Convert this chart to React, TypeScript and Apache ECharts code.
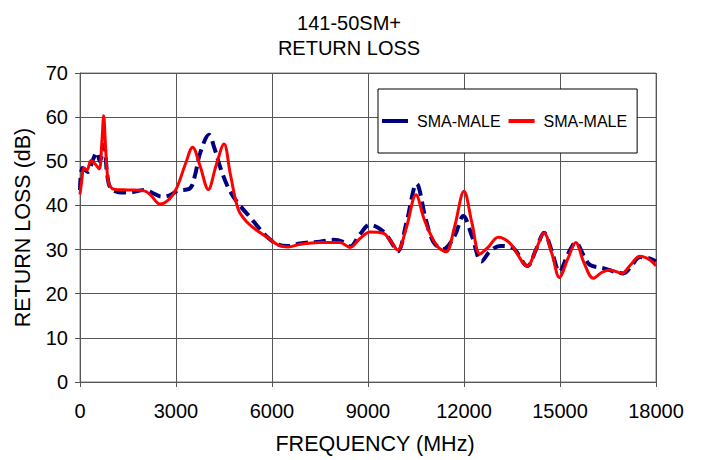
import React, { useEffect, useRef } from "react";
import * as echarts from "echarts";

const titleLines = ["141-50SM+", "RETURN LOSS"];
const xAxisName = "FREQUENCY (MHz)";
const yAxisName = "RETURN LOSS (dB)";
const seriesNames = ["SMA-MALE", "SMA-MALE"];

// Blue dashed curve: [frequency MHz, return loss dB]
const blueFreq = [
  0, 80, 250, 400, 530, 620, 750, 850, 950, 1200, 1500, 2020, 2300, 2540, 2800, 3040,
  3440, 3600, 3750, 4030, 4200, 4375, 4600, 4790, 5050, 5310, 5600, 5885, 6200, 6500,
  6875, 7500, 7920, 8200, 8440, 8750, 9060, 9480, 9700, 9930, 10200, 10520, 10800,
  11040, 11350, 11700, 11980, 12250, 12550, 12800, 13125, 13500, 13980, 14250, 14500,
  14750, 14980, 15250, 15490, 15750, 15940, 16350, 16980, 17250, 17500, 17800, 18000,
];
const blueLoss = [
  43.5, 48.5, 47.6, 50.3, 52, 50, 53.7, 47, 44, 43, 42.9, 43.5, 42.7, 42, 42.3, 43.3,
  43.9, 47, 51.8, 56, 53, 48.8, 44.5, 42, 39.5, 37.4, 34.8, 32.6, 31.1, 30.8,
  31.4, 31.8, 32.2, 31.8, 30.7, 33.5, 35.6, 34.1, 32, 29.6, 36, 44.9, 37,
  31.8, 30.1, 33, 37.6, 33, 27.3, 29.5, 30.8, 30.5, 26.3, 30, 33.8,
  29.5, 25, 29, 31.6, 28.5, 26.5, 25.8, 24.6, 26.5, 28.3, 28, 27.3,
];

// Red solid curve: [frequency MHz, return loss dB]
const redFreq = [
  0, 60, 120, 220, 340, 460, 600, 680, 740, 800, 870, 950, 1100, 1500, 2000, 2200,
  2500, 2800, 3020, 3300, 3520, 3750, 4010, 4250, 4500, 4700, 4950, 5210, 5500, 5885,
  6200, 6500, 6875, 7500, 8125, 8440, 8750, 9060, 9480, 9700, 9930, 10200, 10500,
  10750, 10990, 11200, 11440, 11700, 12000, 12250, 12500, 12750, 13070, 13440, 13980,
  14250, 14500, 14750, 14980, 15250, 15490, 15750, 16040, 16300, 16560, 16930, 17200,
  17500, 17800, 18000,
];
const redLoss = [
  42.5, 46, 48.5, 48, 50.2, 49.5, 48.3, 54, 60.3, 53, 46, 44.2, 43.6, 43.5, 43.3, 42.4,
  40.3, 41.5, 43.9, 49.5, 53.2, 49, 43.6, 49, 53.9, 47, 39, 36.3, 34.5, 32.6,
  31, 30.6, 31.2, 31.6, 31.6, 30.5, 32.5, 34, 33.7, 32, 29.9, 35, 42.4,
  37, 32.9, 30.5, 29.5, 35, 43.2, 36, 29, 30.5, 32.8, 31.4, 26.3,
  30, 33.8, 29, 23.7, 28, 31.6, 27, 23.5, 24.8, 25.4, 24.6, 26.5,
  28.5, 27.7, 26.3,
];

const FONT = "'Liberation Sans', Arial, sans-serif";

export default function App() {
  const ref = useRef<HTMLDivElement>(null);

  useEffect(() => {
    if (!ref.current) return;
    const chart = echarts.init(ref.current, undefined, { renderer: "svg" });
    const blueData = blueFreq.map((f, i) => [f, blueLoss[i]]);
    const redData = redFreq.map((f, i) => [f, redLoss[i]]);
    const gridColor = "#555";

    chart.setOption({
      animation: false,
      backgroundColor: "#fff",
      textStyle: { fontFamily: FONT },
      title: {
        text: titleLines.join("\n"),
        left: 344,
        top: 5,
        textAlign: "center",
        textStyle: {
          fontFamily: FONT,
          fontSize: 20,
          fontWeight: "normal",
          color: "#000",
          lineHeight: 25,
        },
      },
      legend: {
        left: 378,
        top: 89,
        orient: "horizontal",
        backgroundColor: "#fff",
        borderColor: "#000",
        borderWidth: 1,
        borderRadius: 0,
        padding: [24, 10, 24, 4],
        icon: "rect",
        itemWidth: 26,
        itemHeight: 4,
        itemGap: 8,
        textStyle: {
          fontFamily: FONT,
          fontSize: 16,
          color: "#000",
          padding: [0, 0, 0, 4],
        },
        data: [
          { name: "blue", itemStyle: { color: "#000080" } },
          { name: "red", itemStyle: { color: "#ff0000" } },
        ],
        formatter: (n: string) => (n === "blue" ? seriesNames[0] : seriesNames[1]),
      },
      grid: {
        left: 80,
        right: 45,
        top: 73,
        bottom: 78,
        show: true,
        borderColor: "#808080",
        borderWidth: 1,
        backgroundColor: "#fff",
      },
      xAxis: {
        type: "value",
        min: 0,
        max: 18000,
        interval: 3000,
        name: xAxisName,
        nameLocation: "middle",
        nameGap: 51,
        nameTextStyle: {
          fontFamily: FONT,
          fontSize: 21.5,
          color: "#000",
          padding: [0, 0, 0, 14],
        },
        axisLine: { show: true, lineStyle: { color: gridColor, width: 1 } },
        axisTick: { show: true, length: 5, lineStyle: { color: gridColor } },
        axisLabel: {
          fontFamily: FONT,
          fontSize: 20,
          color: "#000",
          margin: 19,
          formatter: (v: number) => String(v),
        },
        splitLine: { show: true, lineStyle: { color: gridColor, width: 1 } },
      },
      yAxis: {
        type: "value",
        min: 0,
        max: 70,
        interval: 10,
        name: yAxisName,
        nameLocation: "middle",
        nameGap: 46,
        nameTextStyle: { fontFamily: FONT, fontSize: 21.5, color: "#000" },
        axisLine: { show: true, lineStyle: { color: gridColor, width: 1 } },
        axisTick: { show: true, length: 5, lineStyle: { color: gridColor } },
        axisLabel: { fontFamily: FONT, fontSize: 20, color: "#000", margin: 12 },
        splitLine: { show: true, lineStyle: { color: gridColor, width: 1 } },
      },
      series: [
        {
          name: "blue",
          type: "line",
          data: blueData,
          smooth: 0.35,
          symbol: "none",
          lineStyle: { color: "#000080", width: 4, type: [12, 6] },
          itemStyle: { color: "#000080" },
          z: 2,
        },
        {
          name: "red",
          type: "line",
          data: redData,
          smooth: 0.35,
          symbol: "none",
          lineStyle: { color: "#ff0000", width: 3 },
          itemStyle: { color: "#ff0000" },
          z: 3,
        },
      ],
    });

    return () => chart.dispose();
  }, []);

  return (
    <div
      ref={ref}
      style={{ position: "fixed", left: 0, top: 0, width: 701, height: 460 }}
    />
  );
}
